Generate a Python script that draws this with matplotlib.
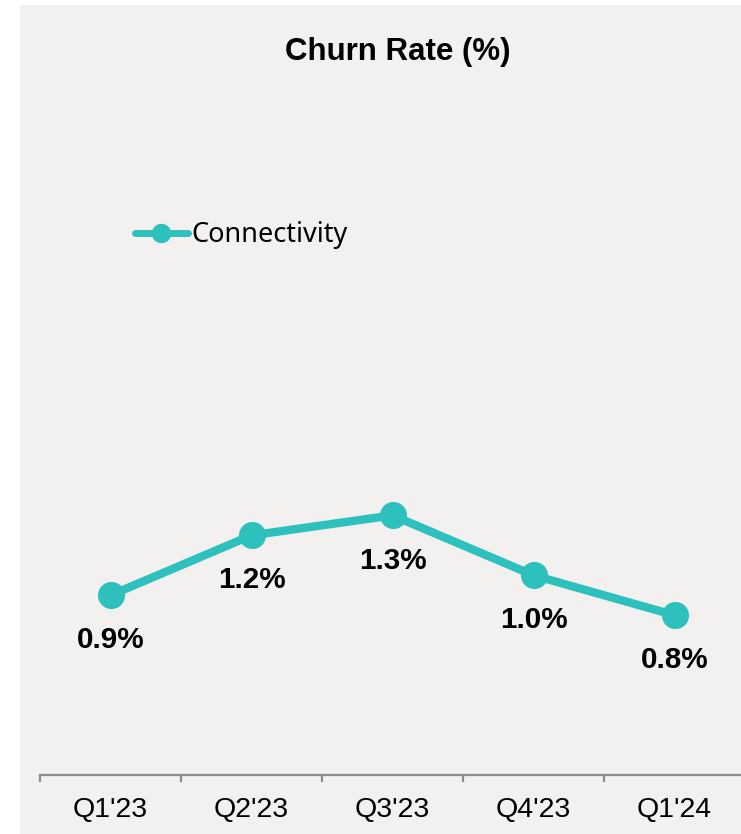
import matplotlib
matplotlib.use("Agg")
import matplotlib.pyplot as plt
from matplotlib.patches import Rectangle

# churn per quarter, connectivity segment
quarters = ["Q1'23", "Q2'23", "Q3'23", "Q4'23", "Q1'24"]
churn = [0.9, 1.2, 1.3, 1.0, 0.8]
labels = ["0.9%", "1.2%", "1.3%", "1.0%", "0.8%"]

TEAL = "#2DC0BC"
PANEL = "#F2F1EF"
AXIS = "#8C8C8C"

W, H = 741, 834
fig = plt.figure(figsize=(W / 100, H / 100), dpi=100)
fig.patch.set_facecolor("white")
fig.patches.append(Rectangle((20 / W, 0), 1, (H - 5) / H, transform=fig.transFigure,
                             facecolor=PANEL, edgecolor="none", zorder=-5))

ax = fig.add_axes([40 / W, (H - 775) / H, 705 / W, (775 - 76) / H])
ax.set_facecolor("none")

x = list(range(len(quarters)))
ax.plot(x, churn, color=TEAL, lw=6, marker="o", ms=18.5, solid_capstyle="round",
        label="Connectivity", clip_on=False)

for xi, v, t in zip(x, churn, labels):
    ax.annotate(t, (xi, v), xytext=(0, -32.5), textcoords="offset points",
                ha="center", va="center", fontsize=21.3, fontweight="bold",
                family=["Liberation Sans", "DejaVu Sans"])

ax.set_xlim(-0.5, 4.5)
ax.set_ylim(0, 3.5)
for s in ["left", "top", "right"]:
    ax.spines[s].set_visible(False)
ax.spines["bottom"].set_color(AXIS)
ax.spines["bottom"].set_linewidth(1.6)
ax.set_yticks([])

ax.set_xticks(x)
ax.set_xticklabels(quarters, family=["Liberation Sans", "DejaVu Sans"], fontsize=20.5)
ax.set_xticks([i - 0.5 for i in range(len(quarters) + 1)], minor=True)
ax.tick_params(axis="x", which="major", length=0, pad=15.5)
ax.tick_params(axis="x", which="minor", length=5, width=1.6, color=AXIS)

leg = ax.legend(loc="upper left", bbox_to_anchor=(95 / 705, (775 - 221) / (775 - 76)),
                frameon=False, handlelength=1.95, handletextpad=0.12, markerscale=0.7,
                prop={"family": ["Noto Sans", "DejaVu Sans"], "size": 19.5},
                borderaxespad=0, borderpad=0)
leg.get_lines()[0].set_linewidth(5)

fig.text(398 / W, 1 - 52 / H, "Churn Rate (%)", ha="center", va="center",
         fontsize=22.5, fontweight="bold", family=["Liberation Sans", "DejaVu Sans"])

fig.savefig("out.png", dpi=100, facecolor=fig.get_facecolor())
